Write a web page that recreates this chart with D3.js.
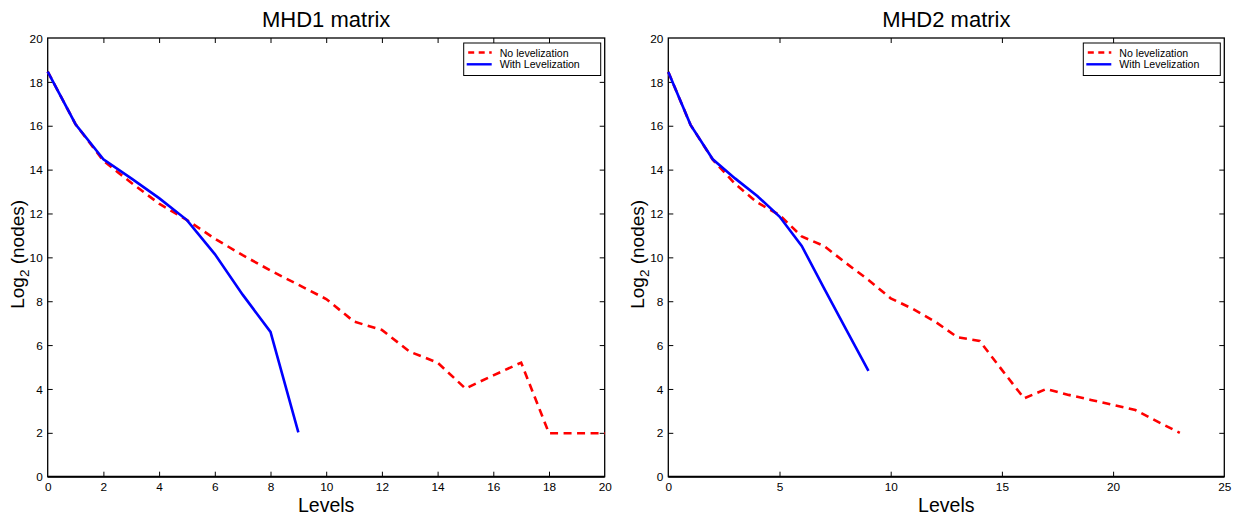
<!DOCTYPE html>
<html><head><meta charset="utf-8">
<script src="https://cdn.jsdelivr.net/npm/d3@7"></script>
<style>body{margin:0;background:#fff}svg{display:block}text{font-family:"Liberation Sans",Arial,sans-serif;fill:#000}</style>
</head><body><svg id="c" width="1236" height="515"></svg>
<script>
// Data
const levels1 = d3.range(0, 21);
const mhd1NoLev = [18.47,16.07,14.4,13.4,12.45,11.7,10.85,10.1,9.4,8.75,8.1,7.07,6.69,5.7,5.2,4.02,4.62,5.2,1.98,1.98,1.98];
const levels1With = d3.range(0, 10);
const mhd1WithLev = [18.47,16.07,14.47,13.6,12.7,11.7,10.15,8.3,6.6,2.02];
const levels2 = d3.range(0, 24);
const mhd2NoLev = [18.45,16.04,14.45,13.35,12.5,11.93,10.95,10.52,9.73,8.97,8.13,7.65,7.07,6.36,6.19,4.87,3.57,4.0,3.73,3.5,3.27,3.04,2.51,2.0];
const levels2With = d3.range(0, 10);
const mhd2WithLev = [18.45,16.04,14.47,13.6,12.8,11.86,10.52,8.6,6.7,4.82];
const yTicks = d3.range(0, 21, 2);
const xTicks1 = d3.range(0, 21, 2);
const xTicks2 = d3.range(0, 26, 5);
const titles = ["MHD1 matrix", "MHD2 matrix"];
const legendLabels = ["No levelization", "With Levelization"];

const svg = d3.select("#c");
const plotTop = 38, plotBottom = 476.7;

function panel(x0, x1, xDomain, xTicks, noX, noY, wX, wY, title) {
  const g = svg.append("g");
  const x = d3.scaleLinear().domain(xDomain).range([x0, x1]);
  const y = d3.scaleLinear().domain([0, 20]).range([plotBottom, plotTop]);
  const tl = 5;
  const gb = g.append("g").attr("transform", `translate(0,${plotBottom})`).call(d3.axisBottom(x).tickValues(xTicks).tickSizeInner(-tl).tickSizeOuter(0).tickPadding(8));
  const gt = g.append("g").attr("transform", `translate(0,${plotTop})`).call(d3.axisTop(x).tickValues(xTicks).tickSizeInner(-tl).tickSizeOuter(0).tickFormat(""));
  const gl = g.append("g").attr("transform", `translate(${x0},0)`).call(d3.axisLeft(y).tickValues(yTicks).tickSizeInner(-tl).tickSizeOuter(0).tickPadding(5));
  const gr = g.append("g").attr("transform", `translate(${x1},0)`).call(d3.axisRight(y).tickValues(yTicks).tickSizeInner(-tl).tickSizeOuter(0).tickFormat(""));
  [gb, gt, gl, gr].forEach(a => {
    a.select(".domain").remove();
    a.selectAll(".tick line").attr("stroke", "#000").attr("stroke-width", 1);
    a.selectAll("text").style("font-size", "11.8px").style("font-family", '"Liberation Sans",Arial,sans-serif').attr("fill", "#000");
  });
  gb.selectAll(".tick text").attr("dy", "0.71em").attr("y", 6);
  gb.selectAll(".tick").filter(d => d === xDomain[0] || d === xDomain[1]).select("line").remove();
  gt.selectAll(".tick").filter(d => d === xDomain[0] || d === xDomain[1]).select("line").remove();
  gl.selectAll(".tick").filter(d => d === 0 || d === 20).select("line").remove();
  gr.selectAll(".tick").filter(d => d === 0 || d === 20).select("line").remove();
  gl.selectAll(".tick text").attr("dy", "0.35em");
  // box
  g.append("rect").attr("x", x0).attr("y", plotTop).attr("width", x1 - x0).attr("height", plotBottom - plotTop)
    .attr("fill", "none").attr("stroke", "#000").attr("stroke-width", 1.3);
  // lines
  const line = d3.line().x(d => x(d[0])).y(d => y(d[1]));
  g.append("path").datum(noX.map((v, i) => [v, noY[i]])).attr("d", line)
    .attr("fill", "none").attr("stroke", "#ff0000").attr("stroke-width", 2.6).attr("stroke-dasharray", "8,5.5");
  g.append("path").datum(wX.map((v, i) => [v, wY[i]])).attr("d", line)
    .attr("fill", "none").attr("stroke", "#0000ff").attr("stroke-width", 2.6);
  g.append("line").attr("x1", x0).attr("x2", x1).attr("y1", plotBottom).attr("y2", plotBottom).attr("stroke", "#000").attr("stroke-width", 2);
  // titles
  const cx = (x0 + x1) / 2;
  g.append("text").attr("x", cx).attr("y", 27).attr("text-anchor", "middle").style("font-size", "22px").text(title);
  g.append("text").attr("x", cx).attr("y", 511.5).attr("text-anchor", "middle").style("font-size", "19.5px").text("Levels");
  const yl = g.append("text").attr("transform", `translate(${x0 - 24},${(plotTop + plotBottom) / 2 - 3}) rotate(-90)`)
    .attr("text-anchor", "middle").style("font-size", "19px");
  yl.append("tspan").text("Log");
  yl.append("tspan").attr("dy", 5).style("font-size", "13.5px").text("2");
  yl.append("tspan").attr("dy", -5).text(" (nodes)");
  // legend
  const lx1 = x1 - 4, lx0 = lx1 - 137, ly0 = 43, ly1 = 75.5;
  const lg = g.append("g");
  lg.append("rect").attr("x", lx0).attr("y", ly0).attr("width", lx1 - lx0).attr("height", ly1 - ly0)
    .attr("fill", "#fff").attr("stroke", "#000").attr("stroke-width", 1);
  const items = [{dash: "6,4.5", color: "#ff0000"}, {dash: null, color: "#0000ff"}];
  items.forEach((it, i) => {
    const yy = ly0 + 9.5 + i * 11.8;
    const l = lg.append("line").attr("x1", lx0 + 3).attr("x2", lx0 + 28).attr("y1", yy).attr("y2", yy)
      .attr("stroke", it.color).attr("stroke-width", 2.4);
    if (it.dash) l.attr("stroke-dasharray", it.dash).attr("x1", lx0 + 4.5);
    lg.append("text").attr("x", lx0 + 36).attr("y", yy + 4).style("font-size", "10.6px").text(legendLabels[i]);
  });
}

panel(47.7, 604.7, [0, 20], xTicks1, levels1, mhd1NoLev, levels1With, mhd1WithLev, titles[0]);
panel(668.3, 1224.3, [0, 25], xTicks2, levels2, mhd2NoLev, levels2With, mhd2WithLev, titles[1]);
</script></body></html>
